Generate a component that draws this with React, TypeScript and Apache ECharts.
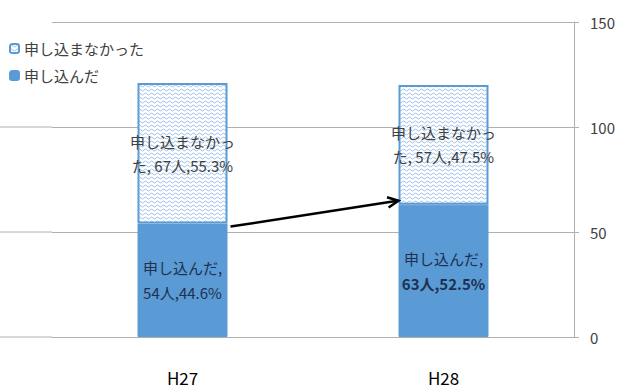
import React, { useEffect, useRef } from 'react';
import * as echarts from 'echarts';

const categories = ['H27', 'H28'];
const appliedCounts = [54, 63];
const appliedPct = ['44.6', '52.5'];
const notAppliedCounts = [67, 57];
const notAppliedPct = ['55.3', '47.5'];
const yTickMax = 150;
const yTickStep = 50;
const seriesNames = ['申し込んだ', '申し込まなかった'];

const FONT = '"Noto Sans CJK JP", "Noto Sans", sans-serif';

function makePattern(): HTMLCanvasElement {
  const c = document.createElement('canvas');
  c.width = 6;
  c.height = 4;
  const ctx = c.getContext('2d')!;
  ctx.fillStyle = '#ffffff';
  ctx.fillRect(0, 0, 6, 4);
  ctx.strokeStyle = '#9ec2ea';
  ctx.lineWidth = 1;
  ctx.beginPath();
  ctx.moveTo(0, 2);
  ctx.lineTo(1.5, 1);
  ctx.lineTo(3, 2);
  ctx.lineTo(4.5, 3);
  ctx.lineTo(6, 2);
  ctx.stroke();
  return c;
}

export default function App() {
  const ref = useRef<HTMLDivElement>(null);
  useEffect(() => {
    if (!ref.current) return;
    const chart = echarts.init(ref.current, null, { renderer: 'svg' });
    const pattern = makePattern();
    const blue = '#5b9bd5';
    const option: any = {
      animation: false,
      backgroundColor: '#ffffff',
      grid: { left: 52, right: 45, top: 22, bottom: 55 },
      legend: {
        orient: 'vertical',
        left: 4,
        top: 36,
        itemWidth: 9,
        itemHeight: 9,
        itemGap: 12,
        data: [seriesNames[1], seriesNames[0]],
        textStyle: { fontFamily: FONT, fontSize: 15, color: '#404040' },
      },
      xAxis: {
        type: 'category',
        data: categories,
        axisLine: { show: true, lineStyle: { color: '#b0b0b0', width: 1 } },
        axisTick: { show: false },
        axisLabel: {
          margin: 32,
          fontFamily: FONT,
          fontSize: 17,
          lineHeight: 17,
          color: '#000000',
        },
      },
      yAxis: {
        type: 'value',
        position: 'right',
        min: 0,
        max: yTickMax,
        interval: yTickStep,
        axisLine: { show: true, lineStyle: { color: '#b0b0b0', width: 1 } },
        axisTick: { show: true, inside: false, length: 5, lineStyle: { color: '#b0b0b0' } },
        splitLine: { show: true, lineStyle: { color: '#b0b0b0', width: 1 } },
        axisLabel: { margin: 16, fontFamily: FONT, fontSize: 15, color: '#404040' },
      },
      series: [
        {
          name: seriesNames[0],
          type: 'bar',
          stack: 'total',
          barWidth: 90,
          itemStyle: { color: blue, borderColor: blue, borderWidth: 1 },
          data: appliedCounts.map((v, i) => ({
            value: v,
            label:
              i === 1
                ? {
                    formatter: `{n|${seriesNames[0]},}\n{b|${v}人,${appliedPct[i]}%}`,
                  }
                : { formatter: `{n|${seriesNames[0]},}\n{n|${v}人,${appliedPct[i]}%}` },
          })),
          label: {
            show: true,
            position: 'inside',
            fontFamily: FONT,
            fontSize: 15,
            lineHeight: 25,
            color: '#1f3050',
            rich: {
              n: { fontFamily: FONT, fontSize: 15, lineHeight: 25, color: '#1f3050' },
              b: { fontFamily: FONT, fontSize: 15, lineHeight: 25, color: '#1f3050', fontWeight: 'bold' },
            },
          },
        },
        {
          name: seriesNames[1],
          type: 'bar',
          stack: 'total',
          barWidth: 90,
          itemStyle: {
            color: { image: pattern, repeat: 'repeat' },
            borderColor: blue,
            borderWidth: 2,
          },
          data: notAppliedCounts,
          label: {
            show: true,
            position: 'inside',
            fontFamily: FONT,
            fontSize: 15,
            lineHeight: 24,
            color: '#404040',
            formatter: (p: any) =>
              `申し込まなかっ\nた, ${notAppliedCounts[p.dataIndex]}人,${notAppliedPct[p.dataIndex]}%`,
          },
        },
      ],
    };
    chart.setOption(option);

    // Arrow annotation between the tops of the "applied" segments + gridline extensions
    const p1 = chart.convertToPixel({ seriesIndex: 0 }, [0, appliedCounts[0]]) as number[];
    const p2 = chart.convertToPixel({ seriesIndex: 0 }, [1, appliedCounts[1]]) as number[];
    const half = 45;
    const x1 = p1[0] + half + 3;
    const y1 = p1[1] + 3;
    const x2 = p2[0] - half;
    const y2 = p2[1] - 4;
    const ang = Math.atan2(y2 - y1, x2 - x1);
    const ah = 12;
    const spread = 0.45;
    const a1 = [x2 - ah * Math.cos(ang - spread), y2 - ah * Math.sin(ang - spread)];
    const a2 = [x2 - ah * Math.cos(ang + spread), y2 - ah * Math.sin(ang + spread)];
    const leftEdge = 52;
    const extLines = [0, 50, 100].map((v) => {
      const py = chart.convertToPixel({ yAxisIndex: 0 }, v) as number;
      return {
        type: 'line',
        shape: { x1: 0, y1: py, x2: leftEdge, y2: py },
        style: { stroke: '#b0b0b0', lineWidth: 1 },
        silent: true,
      };
    });
    chart.setOption({
      graphic: [
        ...extLines,
        {
          type: 'line',
          shape: { x1, y1, x2: x2 - 1, y2: y2 },
          style: { stroke: '#000000', lineWidth: 2.5 },
          z: 100,
        },
        {
          type: 'polyline',
          shape: { points: [a1, [x2, y2], a2] },
          style: { stroke: '#000000', lineWidth: 2.5, fill: null },
          z: 100,
        },
      ],
    });
    return () => chart.dispose();
  }, []);
  return <div ref={ref} style={{ width: 619, height: 392, position: 'absolute', left: 0, top: 0 }} />;
}
